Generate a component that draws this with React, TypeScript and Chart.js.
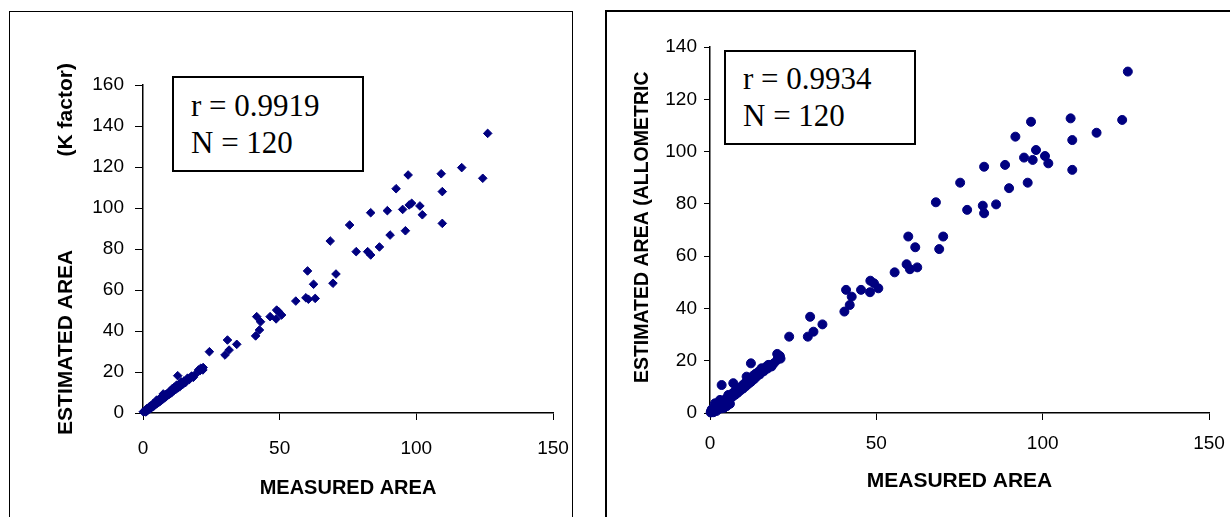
import React, { useEffect, useRef } from "react";
import { Chart, registerables } from "chart.js";

Chart.register(...registerables);

// ---------- data ----------
const kMeasured = [
  126.1, 116.6, 124.3, 109.1, 109.5, 109.5, 97.0, 92.6, 98.3, 97.4, 95.0, 101.3, 102.2, 89.4, 83.3, 96.0,
  90.4, 86.5, 82.2, 83.3, 78.0, 75.6, 68.5, 70.6, 69.5, 60.2, 62.4, 63.0, 60.5, 59.6, 55.9, 48.9,
  49.5, 50.7, 46.5, 48.7, 41.6, 43.0, 42.6, 41.2, 30.9, 34.3, 31.5, 30.0, 24.3, 21.1, 20.3, 21.9,
  17.6, 16.0, 12.7, 14.2, 12.3, 10.9, 10.1, 7.4, 8.4, 6.2, 5.0, 3.8, 2.6, 1.3, 0.1,
  0.5, 0.8, 1.0, 1.2, 1.5, 1.8, 2.0, 2.3, 2.5, 2.8, 3.0, 3.2, 3.5, 3.8, 4.0, 4.3,
  4.5, 4.8, 5.0, 5.3, 5.6, 5.9, 6.2, 6.5, 6.8, 7.0, 7.3, 7.6, 7.9, 8.2, 8.5, 8.8,
  9.0, 9.4, 9.7, 10.0, 10.4, 10.8, 11.2, 11.5, 11.9, 12.3, 12.8, 13.2, 13.6, 14.0, 14.6, 15.0,
  15.5, 16.3, 17.0, 17.8, 18.4, 19.0, 20.8, 21.5, 22.0,
];
const kEstimated = [
  136.4, 119.7, 114.5, 116.7, 108.0, 92.5, 116.1, 109.4, 102.3, 101.5, 99.3, 101.0, 96.7, 98.7, 97.7, 88.9,
  86.8, 81.0, 78.7, 77.1, 78.7, 91.7, 83.9, 67.8, 63.3, 69.3, 62.8, 55.9, 55.5, 56.2, 54.6, 50.2,
  49.6, 47.8, 47.0, 45.9, 47.0, 44.5, 40.5, 37.6, 35.6, 33.5, 30.7, 28.3, 29.9, 21.8, 21.0, 21.0,
  17.7, 16.1, 18.2, 14.5, 12.8, 11.5, 10.4, 9.3, 8.0, 7.2, 6.3, 4.7, 3.4, 2.1, 0.6,
  0.8, 1.2, 0.5, 1.5, 1.0, 2.2, 1.6, 2.8, 2.0, 3.1, 2.5, 3.6, 3.0, 4.2, 3.4, 4.8,
  4.0, 5.3, 4.5, 5.9, 5.0, 6.6, 5.6, 7.0, 6.3, 7.6, 6.8, 8.3, 7.4, 9.0, 8.0, 9.4,
  8.6, 10.0, 9.2, 10.9, 9.8, 12.0, 10.8, 12.6, 11.4, 13.6, 12.2, 14.0, 13.0, 15.2, 14.0, 15.6,
  14.8, 17.0, 16.4, 18.0, 17.4, 18.6, 20.6, 21.6, 22.2,
];

const alloMeasured = [
  125.6, 123.9, 116.2, 108.4, 108.9, 108.9, 96.5, 91.8, 98.0, 100.7, 101.7, 94.4, 97.0, 88.7, 82.4, 95.5,
  89.9, 75.2, 67.9, 77.3, 82.0, 82.4, 86.0, 59.6, 70.1, 61.7, 68.9, 59.1, 60.1, 62.3, 55.5, 48.2,
  49.3, 50.6, 45.4, 48.1, 40.9, 42.6, 42.0, 40.4, 30.1, 33.8, 31.1, 29.4, 23.8, 20.2, 21.0, 20.2,
  17.5, 15.5, 12.3, 14.5, 12.3, 11.0, 9.8, 7.0, 3.5, 8.1, 5.5, 4.5, 3.0, 1.5, 0.5,
  0.3, 0.6, 0.9, 1.2, 1.5, 1.8, 2.1, 2.4, 2.7, 3.1, 3.4, 3.7, 4.0, 4.4, 4.8, 5.1,
  5.5, 5.8, 6.2, 6.5, 6.9, 7.2, 7.6, 8.0, 8.4, 8.8, 9.2, 9.6, 10.0, 10.4, 10.8, 11.2,
  11.6, 12.0, 12.4, 12.9, 13.3, 13.7, 14.1, 14.6, 15.0, 15.6, 16.2, 16.8, 17.3, 18.0, 18.5, 19.2,
  20.6, 21.2, 0.2, 1.0, 2.0, 3.5, 4.2, 5.0, 6.0,
];
const alloEstimated = [
  130.6, 112.1, 107.2, 112.7, 104.4, 93.0, 111.4, 105.7, 100.6, 98.3, 95.5, 97.7, 96.8, 94.9, 94.2, 88.1,
  86.0, 88.1, 80.6, 77.7, 79.3, 76.4, 79.8, 67.5, 67.5, 63.4, 62.7, 56.9, 55.0, 55.7, 53.8, 50.6,
  49.6, 47.7, 47.1, 46.2, 47.1, 44.5, 41.3, 38.8, 36.8, 33.9, 31.1, 29.2, 29.2, 22.6, 21.8, 20.3,
  18.4, 17.1, 19.0, 15.2, 12.0, 13.9, 10.1, 11.4, 10.7, 8.0, 6.9, 2.4, 5.0, 3.7, 1.2,
  0.6, 1.5, 0.9, 2.0, 1.2, 2.6, 1.8, 3.0, 2.2, 3.6, 2.8, 4.3, 3.5, 5.0, 4.2, 5.8,
  4.9, 6.4, 5.6, 7.2, 6.4, 8.0, 7.0, 8.8, 7.8, 9.6, 8.7, 10.4, 9.4, 11.3, 10.3, 12.2,
  11.2, 13.0, 12.0, 14.2, 13.0, 15.0, 14.0, 15.8, 14.8, 16.6, 16.0, 17.6, 17.0, 18.4, 17.8, 19.0,
  21.2, 20.8, 0.2, 0.3, 0.8, 1.8, 2.0, 2.6, 3.5,
];

const xTickValues = [0, 50, 100, 150];
const kYTickValues = [0, 20, 40, 60, 80, 100, 120, 140, 160];
const alloYTickValues = [0, 20, 40, 60, 80, 100, 120, 140];

const kTitleY = "ESTIMATED AREA                (K factor)";
const alloTitleY = " ESTIMATED AREA (ALLOMETRIC";
const titleX = "MEASURED AREA";
const kStats = ["r = 0.9919", "N = 120"];
const alloStats = ["r = 0.9934", "N = 120"];

const SANS = "'Liberation Sans', Arial, sans-serif";
const SERIF = "'Liberation Serif', 'Times New Roman', serif";
const NAVY = "#000080";

type Cfg = {
  xs: number[];
  ys: number[];
  yTicks: number[];
  yMax: number;
  pointStyle: string;
  radius: number;
  padTop: number;
  padRight: number;
  yWidth: number;
  xHeight: number;
  yTickLen: number;
  yTickPad: number;
  xTickLen: number;
  xTickPad: number;
  yTitle: string;
  yTitleSize: number;
  yTitlePad: number;
  xTitleSize: number;
  xTitlePad: number;
};

function makeChart(canvas: HTMLCanvasElement, c: Cfg) {
  const data = c.xs.map((x, i) => ({ x, y: c.ys[i] }));
  return new Chart(canvas, {
    type: "scatter",
    data: {
      datasets: [
        {
          data,
          pointStyle: c.pointStyle as any,
          pointRadius: c.radius,
          pointHoverRadius: c.radius,
          pointBackgroundColor: NAVY,
          pointBorderColor: NAVY,
          pointBorderWidth: 1,
          clip: false as any,
        },
      ],
    },
    options: {
      animation: false,
      responsive: false,
      devicePixelRatio: 1,
      events: [],
      layout: { padding: { top: c.padTop, right: c.padRight, left: 0, bottom: 0 } },
      plugins: { legend: { display: false }, tooltip: { enabled: false } },
      scales: {
        x: {
          type: "linear",
          min: 0,
          max: 150,
          afterBuildTicks: (s: any) => {
            s.ticks = xTickValues.map((v) => ({ value: v }));
          },
          afterFit: (s: any) => {
            s.height = c.xHeight;
          },
          ticks: { font: { family: SANS, size: 19 }, color: "#000", padding: c.xTickPad, maxRotation: 0 },
          grid: { display: true, drawOnChartArea: false, drawTicks: true, tickLength: c.xTickLen, color: "#000", lineWidth: 1 },
          border: { display: true, color: "#000", width: 1.5 },
          title: {
            display: true,
            text: titleX,
            color: "#000",
            font: { family: SANS, size: c.xTitleSize, weight: "bold" },
            padding: { top: 0, bottom: c.xTitlePad },
          },
        },
        y: {
          type: "linear",
          min: 0,
          max: c.yMax,
          afterBuildTicks: (s: any) => {
            s.ticks = c.yTicks.map((v) => ({ value: v }));
          },
          afterFit: (s: any) => {
            s.width = c.yWidth;
          },
          ticks: { font: { family: SANS, size: 19 }, color: "#000", padding: c.yTickPad },
          grid: { display: true, drawOnChartArea: false, drawTicks: true, tickLength: c.yTickLen, color: "#000", lineWidth: 1 },
          border: { display: true, color: "#000", width: 1.5 },
          title: {
            display: true,
            text: c.yTitle,
            color: "#000",
            font: { family: SANS, size: c.yTitleSize, weight: "bold" },
            padding: { top: c.yTitlePad, bottom: 0 },
          },
        },
      },
    } as any,
  });
}

function StatsBox(props: { left: number; top: number; width: number; height: number; padTop: number; lines: string[] }) {
  return (
    <div
      style={{
        position: "absolute",
        left: props.left,
        top: props.top,
        width: props.width,
        height: props.height,
        boxSizing: "border-box",
        border: "2px solid #000",
        background: "#fff",
        paddingLeft: 17,
        paddingTop: props.padTop,
        fontFamily: SERIF,
        fontSize: 31,
        lineHeight: "37.5px",
        color: "#000",
        whiteSpace: "nowrap",
      }}
    >
      {props.lines.map((l, i) => (
        <div key={i}>{l}</div>
      ))}
    </div>
  );
}

export default function App() {
  const leftRef = useRef<HTMLCanvasElement>(null);
  const rightRef = useRef<HTMLCanvasElement>(null);

  useEffect(() => {
    const a = makeChart(leftRef.current!, {
      xs: kMeasured,
      ys: kEstimated,
      yTicks: kYTickValues,
      yMax: 160,
      pointStyle: "rectRot",
      radius: 4.3,
      padTop: 73,
      padRight: 33,
      yWidth: 133,
      xHeight: 104,
      yTickLen: 8,
      yTickPad: 11,
      xTickLen: 7,
      xTickPad: 17,
      yTitle: kTitleY,
      yTitleSize: 21,
      yTitlePad: 44,
      xTitleSize: 20,
      xTitlePad: 16.5,
    });
    const b = makeChart(rightRef.current!, {
      xs: alloMeasured,
      ys: alloEstimated,
      yTicks: alloYTickValues,
      yMax: 140,
      pointStyle: "circle",
      radius: 4.5,
      padTop: 35,
      padRight: 28,
      yWidth: 104,
      xHeight: 104,
      yTickLen: 6,
      yTickPad: 7,
      xTickLen: 7,
      xTickPad: 12,
      yTitle: alloTitleY,
      yTitleSize: 19.5,
      yTitlePad: 24.5,
      xTitleSize: 21,
      xTitlePad: 23,
    });
    return () => {
      a.destroy();
      b.destroy();
    };
  }, []);

  return (
    <div style={{ position: "absolute", left: 0, top: 0, width: 1230, height: 517, overflow: "hidden", background: "#fff" }}>
      <div style={{ position: "absolute", left: 9, top: 11, width: 564, height: 540, boxSizing: "border-box", border: "1px solid #000" }} />
      <div style={{ position: "absolute", left: 605, top: 10, width: 700, height: 540, boxSizing: "border-box", border: "2px solid #000" }} />
      <canvas ref={leftRef} width={576} height={505} style={{ position: "absolute", left: 10, top: 12 }} />
      <canvas ref={rightRef} width={631} height={505} style={{ position: "absolute", left: 606, top: 12 }} />
      <StatsBox left={172} top={76} width={192} height={96} padTop={8.5} lines={kStats} />
      <StatsBox left={724} top={50} width={192} height={95} padTop={7.5} lines={alloStats} />
    </div>
  );
}
